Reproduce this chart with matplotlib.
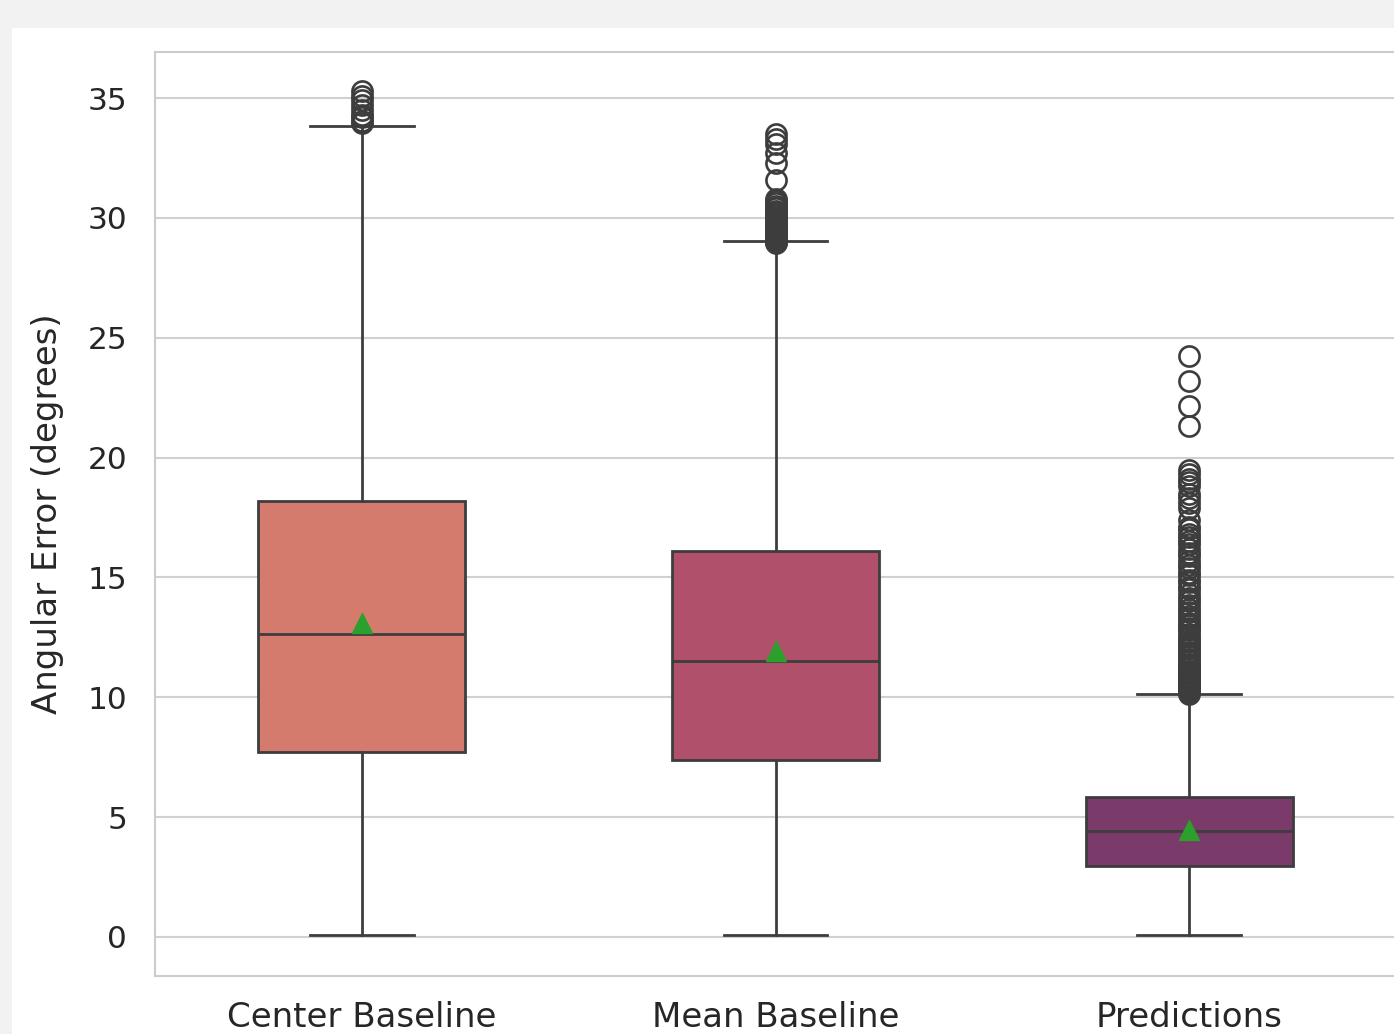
import matplotlib
matplotlib.use("Agg")
import matplotlib.pyplot as plt
from matplotlib.patches import Rectangle

# Box plot summary values (degrees)
categories = ["Center Baseline", "Mean Baseline", "Predictions"]
whisker_low = [0.1, 0.1, 0.1]
q1 = [7.7, 7.4, 2.95]
medians = [12.65, 11.5, 4.4]
q3 = [18.2, 16.1, 5.85]
whisker_high = [33.85, 29.05, 10.15]
means = [13.1, 11.95, 4.45]

fliers_center = [33.95, 34.05, 34.2, 34.3, 34.5, 34.7, 34.9, 35.1, 35.3]
fliers_mean = [28.95, 29.0, 29.05, 29.1, 29.15, 29.2, 29.25, 29.3, 29.35, 29.4,
               29.45, 29.5, 29.55, 29.6, 29.65, 29.7, 29.8, 29.9, 30.0, 30.05,
               30.1, 30.2, 30.3, 30.4, 30.5, 30.6, 30.7, 30.8, 31.6, 32.3,
               32.7, 33.1, 33.3, 33.5]
fliers_pred = [10.15, 10.2, 10.25, 10.3, 10.35, 10.4, 10.45, 10.5, 10.55, 10.6,
               10.65, 10.7, 10.8, 10.85, 10.9, 11.0, 11.05, 11.1, 11.2, 11.3,
               11.35, 11.4, 11.5, 11.6, 11.7, 11.8, 11.9, 12.0, 12.1, 12.2,
               12.3, 12.4, 12.5, 12.65, 12.8, 12.9, 13.0, 13.1, 13.25, 13.4,
               13.55, 13.7, 13.85, 14.0, 14.15, 14.3, 14.5, 14.6, 14.8, 14.9,
               15.1, 15.2, 15.4, 15.5, 15.7, 15.9, 16.0, 16.2, 16.4, 16.5,
               16.7, 16.8, 17.0, 17.1, 17.4, 17.9, 18.1, 18.3, 18.5, 18.8,
               19.0, 19.1, 19.3, 19.5,
               21.3, 22.15, 23.2, 24.25]
fliers = [fliers_center, fliers_mean, fliers_pred]

box_colors = ["#d47b6d", "#b0506a", "#7a3a6a"]
line_color = "#3d3d3d"
text_color = "#262626"

W, H = 1394, 1034
fig = plt.figure(figsize=(W / 100, H / 100), dpi=100, facecolor="#f2f2f2")
# white figure area inside the notebook-style grey frame
fig.patches.append(Rectangle((12 / W, 0), 1, 1 - 28 / H, transform=fig.transFigure,
                             facecolor="white", edgecolor="none", zorder=-1))

ax = fig.add_axes([155 / W, 1 - 976 / H, (1396 - 155) / W, (976 - 52) / H])
ax.set_facecolor("white")

stats = []
for i, name in enumerate(categories):
    stats.append({
        "label": name,
        "whislo": whisker_low[i], "q1": q1[i], "med": medians[i],
        "q3": q3[i], "whishi": whisker_high[i], "mean": means[i],
        "fliers": fliers[i],
    })

lw = 2.0
bp = ax.bxp(stats, positions=range(len(categories)), widths=0.5,
            patch_artist=True, showmeans=True,
            boxprops=dict(edgecolor=line_color, linewidth=lw),
            medianprops=dict(color=line_color, linewidth=lw),
            whiskerprops=dict(color=line_color, linewidth=lw),
            capprops=dict(color=line_color, linewidth=lw),
            flierprops=dict(marker="o", markersize=14.5, markerfacecolor="none",
                            markeredgecolor=line_color, markeredgewidth=1.9),
            meanprops=dict(marker="^", markersize=15, markerfacecolor="#2ca02c",
                           markeredgecolor="#2ca02c"))
for patch, c in zip(bp["boxes"], box_colors):
    patch.set_facecolor(c)

ax.set_xlim(-0.5, 2.5)
ax.set_ylim(-1.63, 36.92)
ax.set_yticks([0, 5, 10, 15, 20, 25, 30, 35])
ax.set_xticks(range(len(categories)))
ax.set_xticklabels(categories)

ax.grid(axis="y", color="#d0d0d0", linewidth=1.5)
ax.set_axisbelow(True)
for s in ax.spines.values():
    s.set_color("#cccccc")
    s.set_linewidth(1.5)

ax.tick_params(length=0, pad=20, labelcolor=text_color)
ax.tick_params(axis="y", labelsize=22.5)
ax.tick_params(axis="x", labelsize=24.5, pad=18)
ax.set_ylabel("Angular Error (degrees)", fontsize=24.5, color=text_color, labelpad=17)

fig.savefig("out.png", dpi=100, facecolor=fig.get_facecolor())
